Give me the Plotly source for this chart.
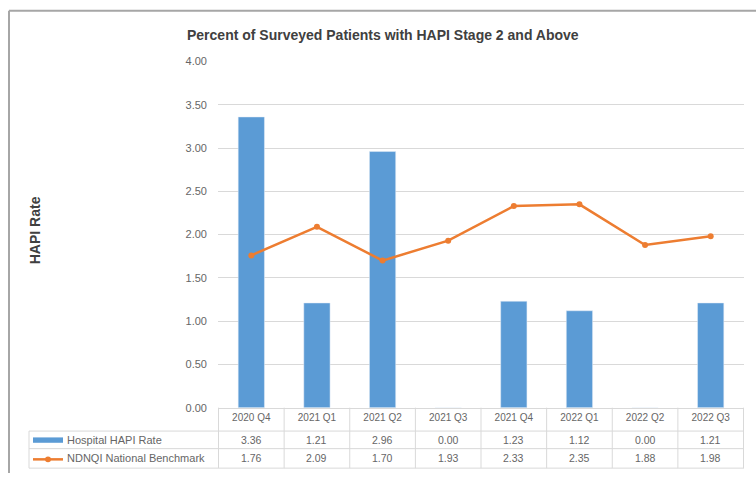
import plotly.graph_objects as go

categories = ["2020 Q4", "2021 Q1", "2021 Q2", "2021 Q3", "2021 Q4", "2022 Q1", "2022 Q2", "2022 Q3"]
hospital_rate = [3.36, 1.21, 2.96, 0.00, 1.23, 1.12, 0.00, 1.21]
benchmark = [1.76, 2.09, 1.70, 1.93, 2.33, 2.35, 1.88, 1.98]
series_names = ["Hospital HAPI Rate", "NDNQI National Benchmark"]
y_ticks = [0, 0.5, 1.0, 1.5, 2.0, 2.5, 3.0, 3.5, 4.0]

W, H = 756, 479
def px(x):
    return x / W
def py(y):
    return 1 - y / H

BLUE = "#5B9BD5"
ORANGE = "#ED7D31"
GRID = "#D9D9D9"
TXT = "#666666"
FONT = "Liberation Sans"

fig = go.Figure()
fig.add_trace(go.Bar(x=categories, y=hospital_rate, name=series_names[0],
                     marker_color=BLUE, showlegend=False))
fig.add_trace(go.Scatter(x=categories, y=benchmark, name=series_names[1], mode="lines+markers",
                         line=dict(color=ORANGE, width=2.5),
                         marker=dict(color=ORANGE, size=6), showlegend=False))

x0_px, x1_px = 218, 744
ytop_axis, ybot_axis = 57, 412
row_tops = [412, 436, 454, 474]
n = len(categories)

shapes = []
# frame of screenshot
shapes.append(dict(type="line", xref="paper", yref="paper", x0=px(9), x1=px(9), y0=0, y1=py(5),
                   line=dict(color="#A6A6A6", width=2)))
shapes.append(dict(type="line", xref="paper", yref="paper", x0=px(9), x1=1, y0=py(5), y1=py(5),
                   line=dict(color="#A6A6A6", width=2)))
# table horizontal lines
for yy in row_tops[1:]:
    shapes.append(dict(type="line", xref="paper", yref="paper", x0=px(29), x1=px(x1_px), y0=py(yy), y1=py(yy),
                       line=dict(color=GRID, width=1)))
# table vertical lines at category boundaries
for k in range(n + 1):
    shapes.append(dict(type="line", xref="x", yref="paper", x0=k - 0.5, x1=k - 0.5,
                       y0=py(row_tops[0]), y1=py(row_tops[-1]), line=dict(color=GRID, width=1)))
shapes.append(dict(type="line", xref="paper", yref="paper", x0=px(29), x1=px(29),
                   y0=py(row_tops[1]), y1=py(row_tops[-1]), line=dict(color=GRID, width=1)))
# legend keys
shapes.append(dict(type="rect", xref="paper", yref="paper", x0=px(33), x1=px(63), y0=py(448), y1=py(442.5),
                   fillcolor=BLUE, line=dict(width=0)))
shapes.append(dict(type="line", xref="paper", yref="paper", x0=px(33), x1=px(63), y0=py(465), y1=py(465),
                   line=dict(color=ORANGE, width=2.5)))
shapes.append(dict(type="circle", xref="paper", yref="paper", x0=px(45), x1=px(51), y0=py(468), y1=py(462),
                   fillcolor=ORANGE, line=dict(width=0)))

annotations = []
row_centers = [445, 464]
for r, vals in enumerate([hospital_rate, benchmark]):
    annotations.append(dict(x=px(65), y=py(row_centers[r]), xref="paper", yref="paper", text=series_names[r],
                            showarrow=False, xanchor="left", yanchor="middle",
                            font=dict(family=FONT, size=11, color=TXT)))
    for i, v in enumerate(vals):
        annotations.append(dict(x=categories[i], y=py(row_centers[r]), xref="x", yref="paper",
                                text=f"{v:.2f}", showarrow=False, xanchor="center", yanchor="middle",
                                font=dict(family=FONT, size=10.5, color=TXT)))

annotations.append(dict(x=px(383), y=py(30), xref="paper", yref="paper",
                        text="<b>Percent of Surveyed Patients with HAPI Stage 2 and Above</b>",
                        showarrow=False, xanchor="center", yanchor="middle",
                        font=dict(family=FONT, size=14, color="#404040")))
annotations.append(dict(x=px(35), y=py(230), xref="paper", yref="paper", text="<b>HAPI Rate</b>",
                        showarrow=False, textangle=-90, xanchor="center", yanchor="middle",
                        font=dict(family=FONT, size=14, color="#404040")))

fig.update_layout(
    width=W, height=H, margin=dict(l=0, r=0, t=0, b=0),
    paper_bgcolor="white", plot_bgcolor="white",
    bargap=0.6,
    xaxis=dict(domain=[px(x0_px), px(x1_px)], type="category", showgrid=False,
               showline=True, linecolor=GRID, linewidth=1, ticks="",
               tickfont=dict(family=FONT, size=10, color=TXT)),
    yaxis=dict(domain=[py(ybot_axis), py(ytop_axis)], range=[0, 4], tickvals=y_ticks,
               tickformat=".2f", showgrid=True, gridcolor=GRID, gridwidth=1, zeroline=False,
               showline=False, ticklabelstandoff=10,
               tickfont=dict(family=FONT, size=11, color=TXT)),
    shapes=shapes, annotations=annotations,
)

fig.write_html("out.html")
